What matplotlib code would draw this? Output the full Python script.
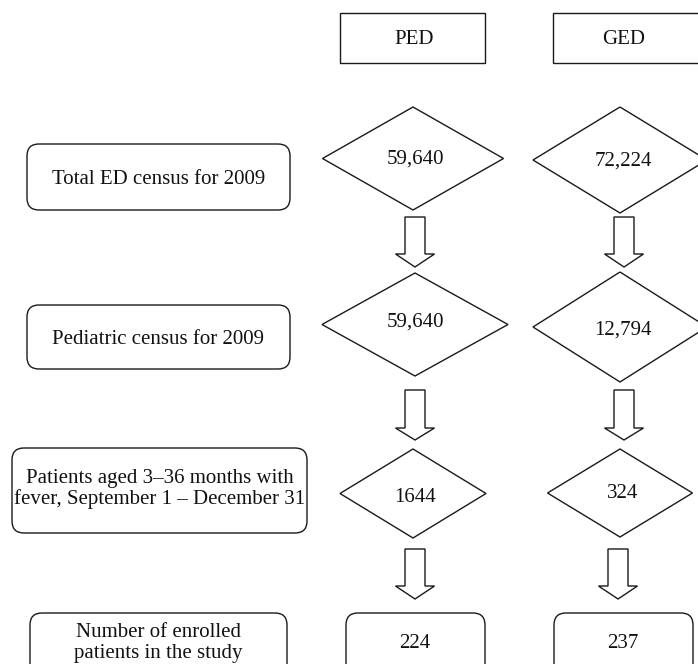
import matplotlib
matplotlib.use("Agg")
import matplotlib.pyplot as plt
from matplotlib.patches import Polygon, Rectangle, FancyBboxPatch

# ---- data ----
columns = ["PED", "GED"]
stages = [
    "Total ED census for 2009",
    "Pediatric census for 2009",
    "Patients aged 3\u201336 months with\nfever, September 1 \u2013 December 31",
    "Number of enrolled\npatients in the study",
]
ped_counts = ["59,640", "59,640", "1644", "224"]
ged_counts = ["72,224", "12,794", "324", "237"]

# ---- layout (pixel coordinates) ----
W, H = 698, 664
fig = plt.figure(figsize=(W / 100, H / 100), dpi=100)
ax = fig.add_axes([0, 0, 1, 1])
ax.set_xlim(0, W)
ax.set_ylim(H, 0)
ax.axis("off")

FONT = "Liberation Serif"
FS = 15
LW = 1.0
EC = "#1a1a1a"
DY = 2  # visual centring offset for text

def rect(x0, y0, x1, y1):
    ax.add_patch(Rectangle((x0, y0), x1 - x0, y1 - y0, fill=False, ec=EC, lw=LW))

def rbox(x0, y0, x1, y1, r=12):
    ax.add_patch(FancyBboxPatch((x0, y0), x1 - x0, y1 - y0,
                                boxstyle=f"round,pad=0,rounding_size={r}",
                                fill=False, ec=EC, lw=LW))

def diamond(cx, cy, hw, hh):
    ax.add_patch(Polygon([(cx, cy - hh), (cx + hw, cy), (cx, cy + hh), (cx - hw, cy)],
                         closed=True, fill=False, ec=EC, lw=LW))

def block_arrow(cx, top, shaft_bot, tip, sw=10, hw=19.5):
    pts = [(cx - sw, top), (cx + sw, top), (cx + sw, shaft_bot), (cx + hw, shaft_bot),
           (cx, tip), (cx - hw, shaft_bot), (cx - sw, shaft_bot)]
    ax.add_patch(Polygon(pts, closed=True, fc="white", ec=EC, lw=LW))

def txt(x, y, s, **kw):
    ax.text(x, y + DY, s, ha="center", va="center", family=FONT, fontsize=FS,
            color="#111111", linespacing=1.12, **kw)

# headers
header_boxes = [(340, 13, 485, 63), (553, 13, 702, 63)]
header_text_x = [414, 624]
for (x0, y0, x1, y1), tx, name in zip(header_boxes, header_text_x, columns):
    rect(x0, y0, x1, y1)
    txt(tx, 37, name)

# stage label boxes
label_boxes = [(27, 144, 290, 210), (27, 305, 290, 369), (12, 448, 307, 533), (30, 613, 287, 695)]
label_text_y = [177, 338, 487, 641]
for (x0, y0, x1, y1), ty, s in zip(label_boxes, label_text_y, stages):
    rbox(x0, y0, x1, y1)
    txt((x0 + x1) / 2, ty, s)

# diamonds (rows 1-3)
ped_diamonds = [(413, 158.5, 90.5, 51.5), (415, 324.5, 93, 51.5), (413, 493.5, 73, 44.5)]
ged_diamonds = [(620, 160, 87, 53), (620, 327, 87, 55), (620, 493, 72.5, 44)]
ped_text_y = [157, 320, 496]
ged_text_y = [159, 328, 492]
for i in range(3):
    diamond(*ped_diamonds[i])
    txt(415, ped_text_y[i], ped_counts[i])
    diamond(*ged_diamonds[i])
    txt(623, ged_text_y[i], ged_counts[i])

# result boxes
rbox(346, 613, 485, 695)
txt(415, 641, ped_counts[3])
rbox(554, 613, 693, 695)
txt(623, 641, ged_counts[3])

# arrows
arrow_rows = [(217, 254, 267), (390, 428, 440), (549, 586, 599)]
ped_arrow_x = [415, 415, 415]
ged_arrow_x = [624, 624, 618]
for (t, s, p), px, gx in zip(arrow_rows, ped_arrow_x, ged_arrow_x):
    block_arrow(px, t, s, p)
    block_arrow(gx, t, s, p)

fig.savefig("out.png", dpi=100, facecolor="white")
